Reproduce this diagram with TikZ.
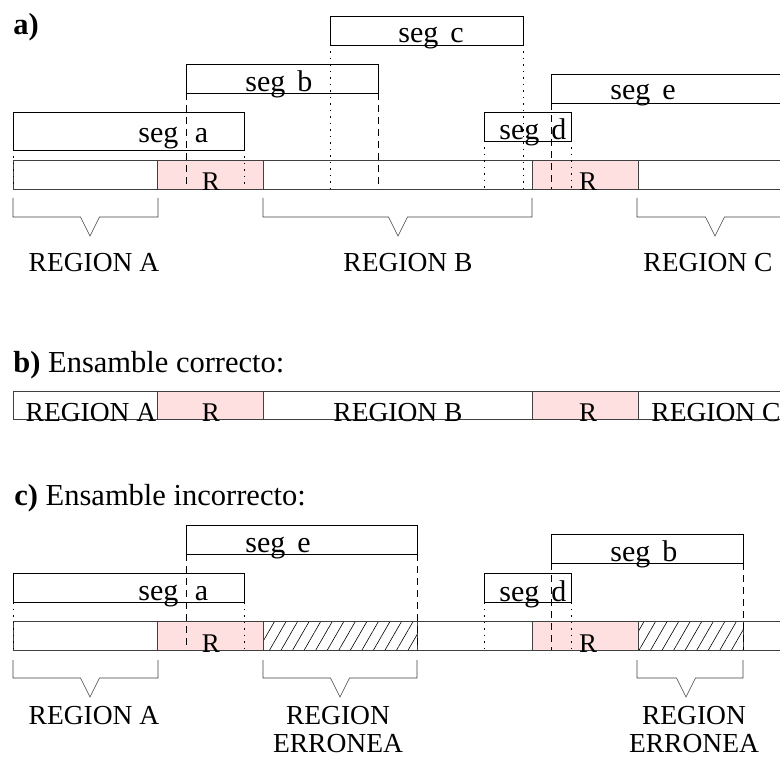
\documentclass[tikz,border=0pt]{standalone}
\usepackage{fontspec}
\setmainfont{Liberation Serif}
\usetikzlibrary{patterns.meta}
\definecolor{rpink}{RGB}{255,224,224}

\begin{document}
\begin{tikzpicture}[x=1pt, y=-1pt, line width=0.8pt,
    strip/.style = {draw=black!75, anchor=north west, minimum height=29pt, inner sep=0pt, outer sep=0pt},
    rbox/.style = {strip, fill=rpink},
    wrong/.style = {strip, pattern={Lines[angle=60, distance=10pt, line width=0.6pt]}},
    seg/.style = {draw, anchor=north west, minimum height=29pt, inner sep=0pt, outer sep=0pt},
    segtext/.style = {anchor=base west, inner sep=0pt, font=\fontsize{30}{30}\selectfont},
    rtext/.style = {anchor=base, inner sep=0pt, font=\fontsize{27}{27}\selectfont},
    reg/.style = {anchor=base, inner sep=0pt, font=\fontsize{27.5}{27.5}\selectfont},
    title/.style = {anchor=base west, inner sep=0pt, font=\fontsize{30.5}{30.5}\selectfont},
    dotline/.style = {line width=0.6pt, dash pattern=on 1.5pt off 5pt},
    dashline/.style = {line width=0.6pt, dash pattern=on 7pt off 5pt},
    brace/.style = {line width=0.6pt, draw=black!75}]
  \useasboundingbox (0,0) rectangle (780,757);
  \clip (0,0) rectangle (780,757);

  % a) segments over the sequence
  \node[title] (ta) at (13,35) {\textbf{a)}};
  \node[strip, minimum width=769pt] (stripa) at (13,160) {};
  \node[rbox, minimum width=106pt] (ra1) at (157,160) {};
  \node[rbox, minimum width=106pt] (ra2) at (532,160) {};
  \node[rtext] at (211,191) {R};
  \node[rtext] at (588,191) {R};

  \node[seg, minimum width=231pt, minimum height=38pt] (sa) at (13,112) {};
  \node[seg, minimum width=192pt] (sb) at (186,64) {};
  \node[seg, minimum width=193pt] (sc) at (330,16) {};
  \node[seg, minimum width=87pt] (sd) at (484,112) {};
  \node[seg, minimum width=231pt] (se) at (551,74) {};
  \node[segtext] at (138,143) {seg\hspace{0.55em}a};
  \node[segtext] at (245,92) {seg\hspace{0.4em}b};
  \node[segtext] at (398,43) {seg\hspace{0.4em}c};
  \node[segtext] at (499,140) {seg\hspace{0.4em}d};
  \node[segtext] at (610,100) {seg\hspace{0.4em}e};

  \draw[dotline] (sa.south west) -- (sa.south west |- stripa.south);
  \draw[dotline] (sa.south east) -- (sa.south east |- stripa.south);
  \draw[dashline] (sb.south west) -- (sb.south west |- stripa.south);
  \draw[dashline] (sb.south east) -- (sb.south east |- stripa.south);
  \draw[dotline] (sc.south west) -- (sc.south west |- stripa.south);
  \draw[dotline] (sc.south east) -- (sc.south east |- stripa.south);
  \draw[dotline] (sd.south west) -- (sd.south west |- stripa.south);
  \draw[dotline] (sd.south east) -- (sd.south east |- stripa.south);
  \draw[dashline] (se.south west) -- (se.south west |- stripa.south);

  \foreach \l/\r/\v in {13/158/90, 263/532/398, 637/790/715}
    \draw[brace] (\l,198) -- (\l,217) -- (\v-9.5,217) -- (\v,236) -- (\v+9.5,217) -- (\r,217) -- (\r,198);
  \node[reg] (rega) at (94,271) {REGION A};
  \node[reg] (regb) at (408,271) {REGION B};
  \node[reg] (regc) at (708,271) {REGION C};

  % b) right assembly
  \node[title] (tb) at (13,372) {\textbf{b)} Ensamble correcto:};
  \node[strip, minimum width=769pt, minimum height=28pt] (stripb) at (13,391) {};
  \node[rbox, minimum width=106pt, minimum height=28pt] (rb1) at (157,391) {};
  \node[rbox, minimum width=106pt, minimum height=28pt] (rb2) at (532,391) {};
  \node[reg] at (91,421) {REGION A};
  \node[rtext] at (211,421) {R};
  \node[reg] at (398,421) {REGION B};
  \node[rtext] at (588,421) {R};
  \node[reg] at (716,421) {REGION C};

  % c) wrong assembly
  \node[title] (tc) at (14,505) {\textbf{c)} Ensamble incorrecto:};
  \node[strip, minimum width=769pt] (stripc) at (13,621) {};
  \node[rbox, minimum width=106pt] (rc1) at (157,621) {};
  \node[rbox, minimum width=106pt] (rc2) at (532,621) {};
  \node[wrong, minimum width=154pt] (hc1) at (263,621) {};
  \node[wrong, minimum width=105pt] (hc2) at (638,621) {};
  \node[rtext] at (211,652) {R};
  \node[rtext] at (588,652) {R};

  \node[seg, minimum width=231pt] (ca) at (13,573) {};
  \node[seg, minimum width=231pt] (ce) at (186,525) {};
  \node[seg, minimum width=87pt] (cd) at (484,573) {};
  \node[seg, minimum width=192pt] (cb) at (551,534) {};
  \node[segtext] at (138,600) {seg\hspace{0.55em}a};
  \node[segtext] at (245,552) {seg\hspace{0.4em}e};
  \node[segtext] at (499,601) {seg\hspace{0.4em}d};
  \node[segtext] at (610,561) {seg\hspace{0.4em}b};

  \draw[dotline] (ca.south west) -- (ca.south west |- stripc.south);
  \draw[dotline] (ca.south east) -- (ca.south east |- stripc.south);
  \draw[dashline] (ce.south west) -- (ce.south west |- stripc.south);
  \draw[dashline] (ce.south east) -- (ce.south east |- stripc.south);
  \draw[dotline] (cd.south west) -- (cd.south west |- stripc.south);
  \draw[dotline] (cd.south east) -- (cd.south east |- stripc.south);
  \draw[dashline] (cb.south west) -- (cb.south west |- stripc.south);
  \draw[dashline] (cb.south east) -- (cb.south east |- stripc.south);

  \foreach \l/\r/\v in {13/158/90, 263/417/340, 637/743/686}
    \draw[brace] (\l,660) -- (\l,678) -- (\v-9.5,678) -- (\v,697) -- (\v+9.5,678) -- (\r,678) -- (\r,660);
  \node[reg] (regca) at (94,724) {REGION A};
  \node[reg] (err1) at (338,724) {REGION};
  \node[reg] (err1b) at (338,752) {ERRONEA};
  \node[reg] (err2) at (694,724) {REGION};
  \node[reg] (err2b) at (694,752) {ERRONEA};
\end{tikzpicture}
\end{document}
